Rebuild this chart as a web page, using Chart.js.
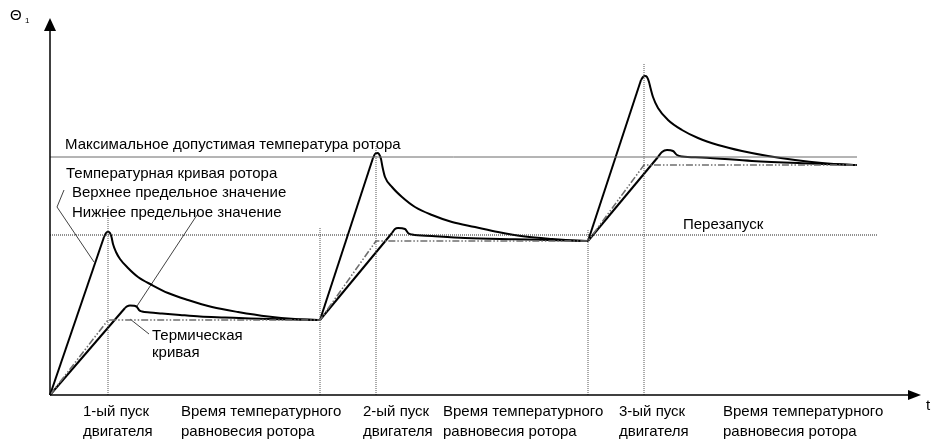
<!DOCTYPE html>
<html lang="ru">
<head>
<meta charset="utf-8">
<title>Температурная кривая ротора</title>
<script src="https://cdn.jsdelivr.net/npm/chart.js@4.4.1/dist/chart.umd.min.js"></script>
<style>
    html, body { margin: 0; padding: 0; background: #fff; }
    #wrap { width: 933px; height: 440px; }
</style>
</head>
<body>
<div id="wrap"><canvas id="rotorChart" width="933" height="440"></canvas></div>
<script>
// t - time, theta - rotor temperature (arbitrary units)
const T_MAX = 871;
const THETA_MAX = 377;

const maxAllowedTemp = 238;
const restartLevel = 160;
const maxLineEnd = 807;
const restartLineEnd = 828;

// straight heating segments, [t, theta]
const upperRise = [
    [[0, 0], [54, 158]],
    [[270, 75], [323, 237]],
    [[538, 154], [591, 315]]
];
// peak + cooling of the upper limit curve
const upperDecay = [
    [[54, 158], [56, 162], [58, 163], [60, 162], [61.5, 158], [63, 151], [66, 143], [70, 136], [78, 127], [88, 118],
     [102, 110], [118, 102], [138, 95], [162, 88], [188, 83], [218, 78.5], [245, 76], [270, 75]],
    [[323, 237], [325, 241], [327, 242], [329, 241], [331, 236], [332.5, 228], [335, 218], [342, 208], [352, 198],
     [365, 188], [382, 180], [402, 173], [425, 168], [448, 163], [475, 158.5], [502, 156], [528, 154.3], [538, 154]],
    [[591, 315], [593, 318], [595, 319], [597, 318], [599, 313], [600.5, 307], [603, 298], [608, 287], [618, 275],
     [632, 265], [648, 257], [668, 250], [692, 244], [718, 239], [745, 235], [772, 232], [798, 230.3], [807, 230]]
];

const lowerRise = [
    [[0, 0], [75, 87]],
    [[270, 75], [342, 162]],
    [[538, 154], [608, 238]]
];
const lowerDecay = [
    [[75, 87], [77, 88.7], [80, 89.6], [84, 89.3], [87, 88], [89, 85], [92, 83.5], [100, 82.5], [112, 81.5],
     [130, 80], [150, 78.5], [175, 77.5], [200, 76.5], [230, 75.7], [270, 75]],
    [[342, 162], [345, 166], [348, 167], [355, 166], [358, 162], [362, 160.5], [382, 159], [415, 157],
     [465, 155.7], [515, 154.6], [538, 154]],
    [[608, 238], [612, 243], [617, 245], [623, 244], [627, 240], [632, 238.5], [652, 237.5], [702, 234],
     [752, 231.8], [798, 230.3], [807, 230]]
];

// thermal curve (dash-dot)
const thermalCurve = [
    [0, 0], [58, 75], [270, 75], [326, 154], [538, 154], [594, 230], [807, 230]
];

// start markers: [t, top of the dotted line]
const startMarkers = [[58, 190], [270, 167], [326, 250], [538, 165], [594, 332]];

// leader lines from captions to the curves
const leaderLines = [
    [[14, 205], [7, 188], [44, 133]],
    [[147, 180], [87, 89]],
    [[80, 76], [99, 61]]
];

// captions inside the plot: [text, t, theta]
const noteLabels = [
    ['Максимальное допустимая температура ротора', 15, 250],
    ['Температурная кривая ротора', 16, 221],
    ['Верхнее предельное значение', 22, 202],
    ['Нижнее предельное значение', 22, 182],
    ['Перезапуск', 633, 170],
    ['Термическая', 102, 59],
    ['кривая', 102, 42]
];

// captions under the time axis (left edge): [line 1, line 2, t]
const timeLabels = [
    ['1-ый пуск', 'двигателя', 33],
    ['Время температурного', 'равновесия ротора', 131],
    ['2-ый пуск', 'двигателя', 313],
    ['Время температурного', 'равновесия ротора', 393],
    ['3-ый пуск', 'двигателя', 569],
    ['Время температурного', 'равновесия ротора', 673]
];

const FONT = '15px "Liberation Sans", Arial, sans-serif';

const toPoints = arr => arr.map(([x, y]) => ({ x, y }));

const rotorChart = {
    chart: null,

    line(points, opts = {}) {
        return Object.assign({
            data: toPoints(points),
            showLine: true,
            borderColor: '#000',
            borderWidth: 2,
            pointRadius: 0,
            tension: 0,
            clip: false,
            fill: false
        }, opts);
    },

    buildDatasets() {
        const sets = [];

        // reference levels
        sets.push(this.line([[0, maxAllowedTemp], [maxLineEnd, maxAllowedTemp]], { borderColor: '#6b6b6b', borderWidth: 1 }));
        sets.push(this.line([[0, restartLevel], [restartLineEnd, restartLevel]], { borderColor: '#222', borderWidth: 1, borderDash: [1, 1] }));
        startMarkers.forEach(([t, top]) => {
            sets.push(this.line([[t, 0], [t, top]], { borderColor: '#555', borderWidth: 1, borderDash: [1, 1] }));
        });

        // thermal curve
        sets.push(this.line(thermalCurve, { borderColor: '#6e6e6e', borderWidth: 1.6, borderDash: [7, 2, 1.5, 2, 1.5, 2] }));

        // limit curves
        upperRise.concat(lowerRise).forEach(seg => sets.push(this.line(seg)));
        upperDecay.concat(lowerDecay).forEach(seg => {
            sets.push(this.line(seg, { cubicInterpolationMode: 'monotone' }));
        });

        // leaders
        leaderLines.forEach(seg => sets.push(this.line(seg, { borderWidth: 0.8, borderColor: '#111' })));

        return sets;
    },

    // axes with arrow heads and all captions
    annotations: {
        id: 'annotations',
        afterDraw(chart) {
            const { ctx, chartArea, scales } = chart;
            const px = t => scales.x.getPixelForValue(t);
            const py = v => scales.y.getPixelForValue(v);
            const x0 = px(0), y0 = py(0);

            ctx.save();
            ctx.strokeStyle = '#000';
            ctx.fillStyle = '#000';
            ctx.lineWidth = 1.5;

            // y axis
            ctx.beginPath();
            ctx.moveTo(x0, y0);
            ctx.lineTo(x0, chartArea.top + 8);
            ctx.stroke();
            ctx.beginPath();
            ctx.moveTo(x0, chartArea.top);
            ctx.lineTo(x0 - 6, chartArea.top + 13);
            ctx.lineTo(x0 + 6, chartArea.top + 13);
            ctx.closePath();
            ctx.fill();

            // t axis
            ctx.beginPath();
            ctx.moveTo(x0, y0);
            ctx.lineTo(chartArea.right - 8, y0);
            ctx.stroke();
            ctx.beginPath();
            ctx.moveTo(chartArea.right, y0);
            ctx.lineTo(chartArea.right - 13, y0 - 5);
            ctx.lineTo(chartArea.right - 13, y0 + 5);
            ctx.closePath();
            ctx.fill();

            ctx.font = FONT;
            ctx.textBaseline = 'middle';
            ctx.textAlign = 'left';
            noteLabels.forEach(([text, t, v]) => ctx.fillText(text, px(t), py(v)));

            timeLabels.forEach(([l1, l2, t]) => {
                ctx.fillText(l1, px(t), y0 + 17);
                ctx.fillText(l2, px(t), y0 + 37);
            });

            // axis names
            ctx.fillText('t', chartArea.right + 5, y0 + 11);
            ctx.fillText('Θ', 10, 16);
            ctx.font = '8px "Liberation Sans", Arial, sans-serif';
            ctx.fillText('1', 25, 21);
            ctx.restore();
        }
    },

    init() {
        const ctx = document.getElementById('rotorChart').getContext('2d');
        this.chart = new Chart(ctx, {
            type: 'scatter',
            data: { datasets: this.buildDatasets() },
            options: {
                responsive: false,
                animation: false,
                layout: { padding: { left: 50, right: 12, top: 18, bottom: 45 } },
                plugins: { legend: { display: false }, tooltip: { enabled: false } },
                scales: {
                    x: { type: 'linear', min: 0, max: T_MAX, display: false },
                    y: { type: 'linear', min: 0, max: THETA_MAX, display: false }
                }
            },
            plugins: [this.annotations]
        });
    }
};

document.addEventListener('DOMContentLoaded', () => rotorChart.init());
</script>
</body>
</html>
